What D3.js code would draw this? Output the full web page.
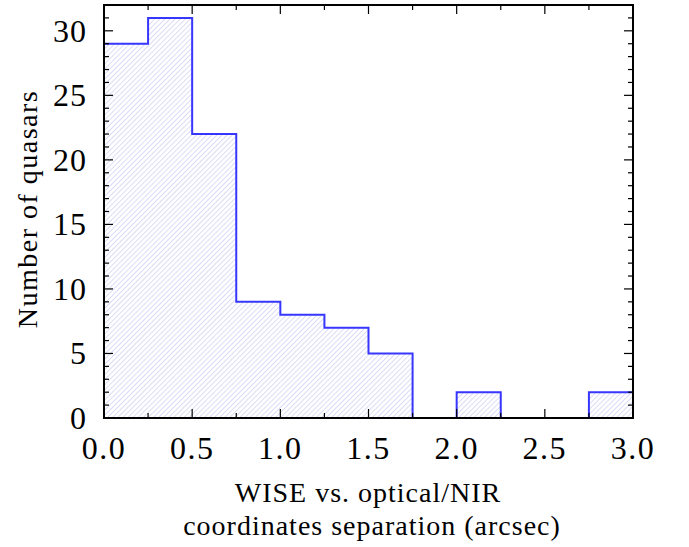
<!DOCTYPE html>
<html>
<head>
<meta charset="utf-8">
<script src="https://cdn.jsdelivr.net/npm/d3@7"></script>
<style>
  body { margin: 0; background: #fff; }
  svg text { font-family: "Liberation Serif", "DejaVu Serif", serif; fill: #000; }
</style>
</head>
<body>
<svg id="chart" width="689" height="547"></svg>
<script>
// histogram bins (left edges, arcsec) and counts
const binStarts = [0.0, 0.25, 0.5, 0.75, 1.0, 1.25, 1.5, 1.75, 2.0, 2.25, 2.5, 2.75];
const binWidth = 0.25;
const counts = [29, 31, 22, 9, 8, 7, 5, 0, 2, 0, 0, 2];
const xTicks = [0.0, 0.5, 1.0, 1.5, 2.0, 2.5, 3.0];
const yTicks = [0, 5, 10, 15, 20, 25, 30];

const svg = d3.select('#chart');
const margin = { left: 104, right: 56, top: 5, bottom: 129 };
const W = 689, H = 547;

const x = d3.scaleLinear().domain([0, 3]).range([margin.left, W - margin.right]);
const y = d3.scaleLinear().domain([0, 32]).range([H - margin.bottom, margin.top]);

// hatch pattern, "/" direction
const defs = svg.append('defs');
const pat = defs.append('pattern')
  .attr('id', 'hatch')
  .attr('patternUnits', 'userSpaceOnUse')
  .attr('width', 3.6).attr('height', 3.6)
  .attr('patternTransform', 'rotate(45)');
pat.append('line')
  .attr('x1', 0).attr('y1', 0).attr('x2', 0).attr('y2', 3.6)
  .attr('stroke', '#bfbff2').attr('stroke-width', 1.1);

const data = binStarts.map((s, i) => ({ x0: s, x1: s + binWidth, n: counts[i] }));

// filled bins
svg.append('g').selectAll('rect')
  .data(data.filter(d => d.n > 0))
  .join('rect')
  .attr('x', d => x(d.x0))
  .attr('y', d => y(d.n))
  .attr('width', d => x(d.x1) - x(d.x0))
  .attr('height', d => y(0) - y(d.n))
  .attr('fill', 'url(#hatch)');

// step outline
let pts = [];
data.forEach(d => {
  pts.push([x(d.x0), y(d.n)]);
  pts.push([x(d.x1), y(d.n)]);
});
pts = [[x(0), y(0)], ...pts, [x(3), y(0)]];
svg.append('path')
  .attr('d', d3.line()(pts))
  .attr('fill', 'none')
  .attr('stroke', '#3636ff')
  .attr('stroke-width', 2);

// axes with inward ticks on all four sides
const g = svg.append('g');
const x0 = x(0), x1 = x(3), yb = y(0), yt = y(32);

d3.range(0, 3.001, 0.25).forEach(v => {
  const major = Math.abs(v * 2 - Math.round(v * 2)) < 1e-6;
  const len = major ? 9 : 5;
  g.append('line').attr('x1', x(v)).attr('x2', x(v)).attr('y1', yb).attr('y2', yb - len).attr('stroke', '#000').attr('stroke-width', 1.2);
  g.append('line').attr('x1', x(v)).attr('x2', x(v)).attr('y1', yt).attr('y2', yt + len).attr('stroke', '#000').attr('stroke-width', 1.2);
});
d3.range(0, 33, 1).forEach(v => {
  const len = v % 5 === 0 ? 9 : 5;
  g.append('line').attr('x1', x0).attr('x2', x0 + len).attr('y1', y(v)).attr('y2', y(v)).attr('stroke', '#000').attr('stroke-width', 1.2);
  g.append('line').attr('x1', x1).attr('x2', x1 - len).attr('y1', y(v)).attr('y2', y(v)).attr('stroke', '#000').attr('stroke-width', 1.2);
});

// frame
g.append('rect')
  .attr('x', x0).attr('y', yt)
  .attr('width', x1 - x0).attr('height', yb - yt)
  .attr('fill', 'none').attr('stroke', '#000').attr('stroke-width', 2);

// tick labels
g.selectAll('.xl').data(xTicks).join('text')
  .attr('x', d => x(d)).attr('y', yb + 41)
  .attr('text-anchor', 'middle')
  .attr('font-size', 32)
  .attr('letter-spacing', 1.5)
  .text(d => d.toFixed(1));
g.selectAll('.yl').data(yTicks).join('text')
  .attr('x', x0 - 17).attr('y', d => y(d) + 11)
  .attr('text-anchor', 'end')
  .attr('font-size', 32)
  .attr('letter-spacing', 1)
  .text(d => d);

// axis titles
svg.append('text')
  .attr('x', 368).attr('y', 502)
  .attr('text-anchor', 'middle').attr('font-size', 28).attr('letter-spacing', 1)
  .text('WISE vs. optical/NIR');
svg.append('text')
  .attr('x', 372).attr('y', 535)
  .attr('text-anchor', 'middle').attr('font-size', 28).attr('letter-spacing', 1)
  .text('coordinates separation (arcsec)');
svg.append('text')
  .attr('transform', `translate(37, 209) rotate(-90)`)
  .attr('text-anchor', 'middle').attr('font-size', 28).attr('letter-spacing', 1.5)
  .text('Number of quasars');
</script>
</body>
</html>
